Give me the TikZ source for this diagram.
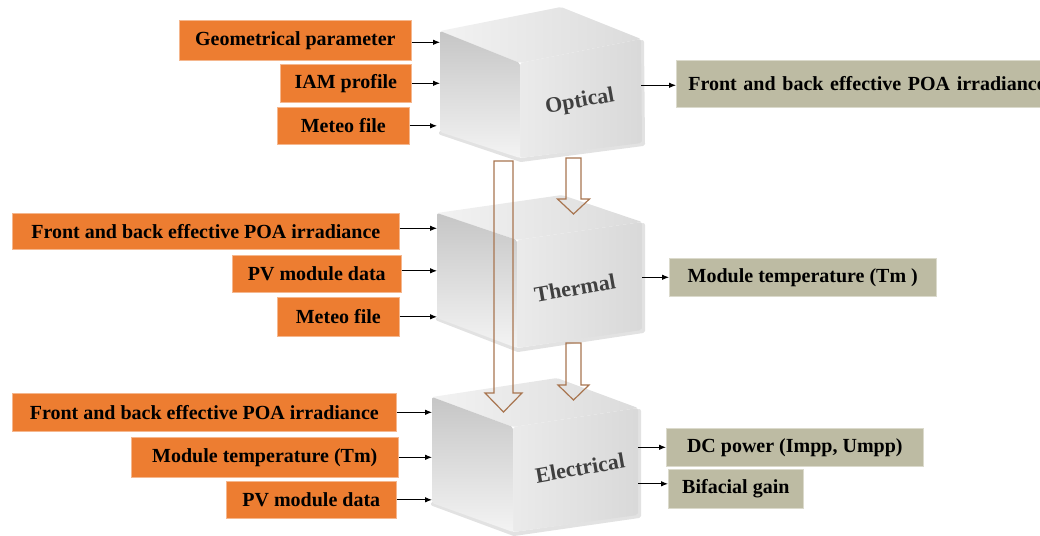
\documentclass[tikz,border=0pt]{standalone}
\usepackage{fontspec}
\setmainfont{Liberation Serif}
\usetikzlibrary{arrows.meta,calc}
\definecolor{org}{HTML}{ED7D31}
\definecolor{tanbox}{HTML}{BDBBA3}
\definecolor{brn}{HTML}{A87550}
\newcommand\drawcube[1]{%
  \coordinate (#1-bk) at ($(#1-tl)+(#1-rt)-(#1-ft)$);
  \draw[black!45, line width=4pt, opacity=.25, line cap=round, line join=round]
    ($(#1-bl)+(1,1)$) -- ($(#1-bf)+(1,2)$) -- ($(#1-br)+(1,1)$) -- ($(#1-rt)+(1,3)$);
  \shade[rounded corners=2pt, left color=gray!10, right color=gray!28]
    (#1-tl) -- (#1-bk) -- (#1-rt) -- (#1-ft) -- cycle;
  \shade[rounded corners=2pt, top color=gray!45, bottom color=gray!9]
    (#1-tl) -- (#1-ft) -- (#1-bf) -- (#1-bl) -- cycle;
  \shade[rounded corners=2pt, left color=gray!16, middle color=gray!5, right color=gray!30]
    (#1-ft) -- (#1-rt) -- (#1-br) -- (#1-bf) -- cycle;
}
\newcommand\blockarrow[5]{%
  \draw[hollow] ($(#1)+(-#3,0)$) -- ($(#2)+(-#3,-#5)$) -- ($(#2)+(-#4,-#5)$) -- (#2)
    -- ($(#2)+(#4,-#5)$) -- ($(#2)+(#3,-#5)$) -- ($(#1)+(#3,0)$) -- cycle;
}
\begin{document}
\begin{tikzpicture}[x=1pt,y=-1pt,
  lbl/.style={inner sep=0pt, anchor=north west, text=black,
    font=\fontsize{20}{22}\selectfont\bfseries},
  inbox/.style={lbl, fill=org, draw=org!55!white, line width=0.6pt},
  outbox/.style={lbl, fill=tanbox, draw=tanbox!55!white, line width=0.6pt},
  conn/.style={-{Latex[length=7pt,width=5.5pt]}, line width=0.9pt, black},
  hollow/.style={draw=brn, line width=1.2pt, line join=miter},
  cubelabel/.style={font=\fontsize{22}{24}\selectfont\bfseries, text=black!75, rotate=10}
]
\useasboundingbox (0,0) rectangle (1040,535);

% ---- cubes ----
\coordinate (o-tl) at (440,31);  \coordinate (o-ft) at (520,63);  \coordinate (o-rt) at (641,39);
\coordinate (o-bl) at (440,132); \coordinate (o-bf) at (520,158); \coordinate (o-br) at (642,143);
\coordinate (t-tl) at (437,213); \coordinate (t-ft) at (517,240); \coordinate (t-rt) at (642,222);
\coordinate (t-bl) at (437,318); \coordinate (t-bf) at (517,348); \coordinate (t-br) at (642,330);
\coordinate (e-tl) at (432,397); \coordinate (e-ft) at (513,427); \coordinate (e-rt) at (638,408);
\coordinate (e-bl) at (432,503); \coordinate (e-bf) at (513,532); \coordinate (e-br) at (638,515);
\drawcube{o}
\drawcube{t}
\drawcube{e}
\node[cubelabel] (opt) at (580,102) {Optical};
\node[cubelabel] (thm) at (575,288) {Thermal};
\node[cubelabel] (ele) at (580,468) {Electrical};

% ---- hollow block arrows ----
\coordinate (la-s) at (503.5,161); \coordinate (la-e) at (503.5,412);
\coordinate (s1-s) at (573.5,158); \coordinate (s1-e) at (573.5,214);
\coordinate (s2-s) at (573.5,343); \coordinate (s2-e) at (573.5,400);
\blockarrow{la-s}{la-e}{9.5}{18.5}{19}
\blockarrow{s1-s}{s1-e}{7.5}{16}{15}
\blockarrow{s2-s}{s2-e}{7.5}{15.5}{15}

% ---- inputs: optical ----
\node[inbox, minimum width=232, minimum height=40] (geo) at (179,20) {Geometrical parameter};
\node[inbox, minimum width=131, minimum height=38] (iam) at (280,64) {IAM profile};
\node[inbox, minimum width=132, minimum height=37] (met1) at (277,107) {Meteo file\hspace{14pt}};
\draw[conn] ([yshift=-2pt]geo.east) -- ([yshift=-2pt]geo.east -| o-tl);
\draw[conn] (iam.east) -- (iam.east -| o-tl);
\draw[conn] (met1.east) -- ([xshift=-3pt]met1.east -| o-tl);

% ---- inputs: thermal ----
\node[inbox, minimum width=387, minimum height=36] (fb2) at (12,213) {Front and back effective POA irradiance};
\node[inbox, minimum width=169, minimum height=37] (pv2) at (232,255) {PV module data};
\node[inbox, minimum width=122, minimum height=39] (met2) at (277,297) {Meteo file};
\draw[conn] ([yshift=3pt]fb2.east) -- ([yshift=3pt]fb2.east -| t-tl);
\draw[conn] ([yshift=3pt]pv2.east) -- ([yshift=3pt]pv2.east -| t-tl);
\draw[conn] (met2.east) -- (met2.east -| t-tl);

% ---- inputs: electrical ----
\node[inbox, minimum width=384, minimum height=38] (fb3) at (12,393) {Front and back effective POA irradiance};
\node[inbox, minimum width=267, minimum height=40] (mt3) at (131,437) {Module temperature (Tm)};
\node[inbox, minimum width=170, minimum height=37] (pv3) at (226,481) {PV module data};
\draw[conn] (fb3.east) -- (fb3.east -| e-tl);
\draw[conn] (mt3.east) -- (mt3.east -| e-tl);
\draw[conn] (pv3.east) -- (pv3.east -| e-tl);

% ---- outputs ----
\node[outbox, minimum height=47, text width=390, inner xsep=12pt, align=left] (ofb) at (676,60) {Front and back effective POA irradiance};
\node[outbox, minimum width=267, minimum height=38] (otm) at (669,258) {Module temperature (Tm )};
\node[outbox, minimum width=257, minimum height=38] (odc) at (666,428) {DC power (Impp, Umpp)\hspace{10pt}};
\node[outbox, minimum width=135, minimum height=39] (obg) at (668,469) {Bifacial gain};
\draw[conn] ([yshift=-1.5pt]ofb.west -| o-rt) -- ([yshift=-1.5pt]ofb.west);
\draw[conn] (otm.west -| t-rt) -- (otm.west);
\draw[conn] (odc.west -| e-rt) -- (odc.west);
\draw[conn] ([yshift=5pt]obg.west -| e-rt) -- ([yshift=5pt]obg.west);
\end{tikzpicture}
\end{document}
